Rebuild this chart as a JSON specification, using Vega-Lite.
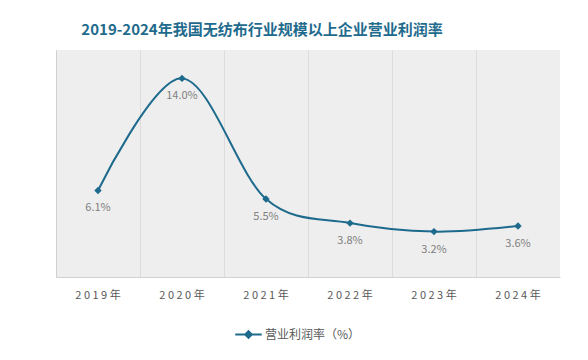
{
  "$schema": "https://vega.github.io/schema/vega-lite/v6.json",
  "width": 504,
  "height": 227,
  "autosize": {"type": "none"},
  "padding": {"left": 56, "top": 50, "right": 28, "bottom": 83},
  "background": "#ffffff",
  "config": {
    "font": "Noto Sans CJK SC",
    "view": {"stroke": null, "fill": "#eeeeee"}
  },
  "title": {
    "text": "2019-2024年我国无纺布行业规模以上企业营业利润率",
    "fontSize": 15,
    "fontWeight": "bold",
    "color": "#1f6b8d",
    "anchor": "middle",
    "dx": -46,
    "offset": 12
  },
  "data": {
    "values": [
      {"year": "2019年", "value": 6.1, "series": "营业利润率（%）"},
      {"year": "2020年", "value": 14.0, "series": "营业利润率（%）"},
      {"year": "2021年", "value": 5.5, "series": "营业利润率（%）"},
      {"year": "2022年", "value": 3.8, "series": "营业利润率（%）"},
      {"year": "2023年", "value": 3.2, "series": "营业利润率（%）"},
      {"year": "2024年", "value": 3.6, "series": "营业利润率（%）"}
    ]
  },
  "transform": [
    {"calculate": "format(datum.value, '.1f') + '%'", "as": "label"}
  ],
  "encoding": {
    "x": {
      "field": "year",
      "type": "ordinal",
      "sort": null,
      "scale": {"type": "band", "paddingInner": 0, "paddingOuter": 0},
      "axis": {
        "title": null,
        "labelAngle": 0,
        "labelExpr": "join(split(datum.label, ''), ' ')",
        "labelFontSize": 11,
        "labelColor": "#595959",
        "labelPadding": 12,
        "ticks": false,
        "domainColor": "#d0d0d0",
        "grid": true,
        "gridColor": "#dcdcdc",
        "bandPosition": 0
      }
    },
    "y": {
      "field": "value",
      "type": "quantitative",
      "scale": {"domain": [0, 16], "nice": false},
      "axis": {
        "title": null,
        "labels": false,
        "ticks": false,
        "grid": false,
        "domainColor": "#d0d0d0"
      }
    }
  },
  "layer": [
    {
      "mark": {"type": "line", "interpolate": "cardinal", "tension": 0, "strokeWidth": 2},
      "encoding": {
        "color": {
          "field": "series",
          "type": "nominal",
          "scale": {"range": ["#1d6a8c"]},
          "legend": {
            "title": null,
            "orient": "none",
            "legendX": 178,
            "legendY": 270,
            "direction": "horizontal",
            "symbolType": "M-1,0L1,0M0,-0.25L0.25,0L0,0.25L-0.25,0Z",
            "symbolSize": 700,
            "symbolStrokeWidth": 2,
            "symbolFillColor": "#1d6a8c",
            "labelFontSize": 12,
            "labelColor": "#595959",
            "labelOffset": 2
          }
        }
      }
    },
    {
      "mark": {"type": "point", "shape": "diamond", "filled": true, "size": 55, "color": "#1d6a8c", "opacity": 1}
    },
    {
      "mark": {"type": "text", "dy": 18, "fontSize": 11, "color": "#7f7f7f"},
      "encoding": {"text": {"field": "label"}}
    }
  ]
}
